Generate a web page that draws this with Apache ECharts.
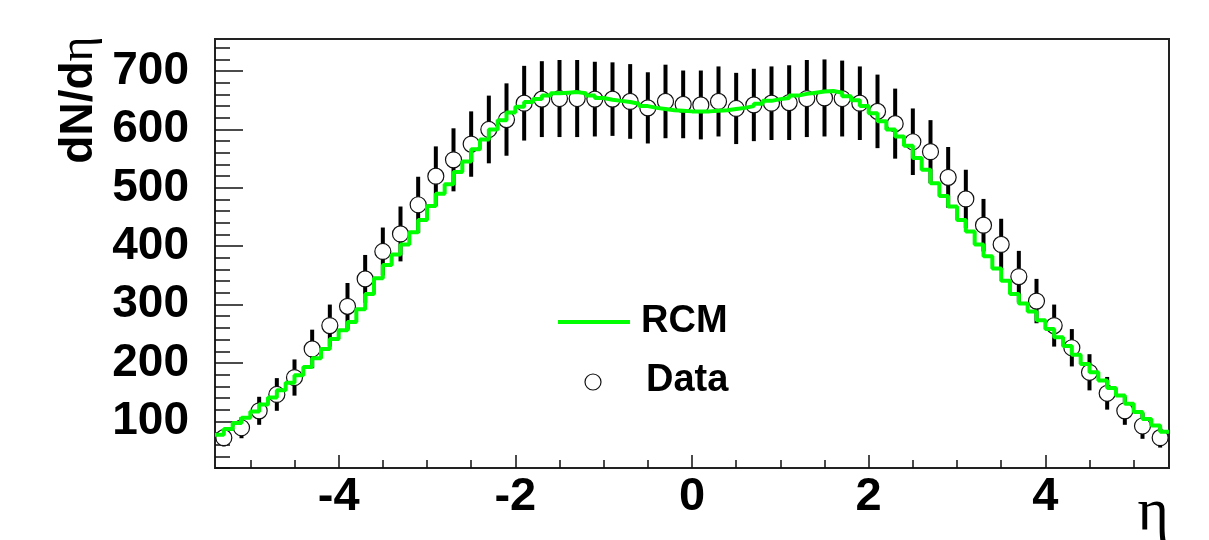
<!DOCTYPE html>
<html><head><meta charset="utf-8">
<script src="https://cdn.jsdelivr.net/npm/echarts@6/dist/echarts.min.js"></script>
<style>html,body{margin:0;padding:0;background:#fff}#c{width:1209px;height:540px}</style>
</head><body><div id="c"></div>
<script>
// Data points (eta, dN/deta, error)
const dataEta = [-5.3,-5.1,-4.9,-4.7,-4.5,-4.3,-4.1,-3.9,-3.7,-3.5,-3.3,-3.1,-2.9,-2.7,-2.5,-2.3,-2.1,-1.9,-1.7,-1.5,-1.3,-1.1,-0.9,-0.7,-0.5,-0.3,-0.1,
  0.1,0.3,0.5,0.7,0.9,1.1,1.3,1.5,1.7,1.9,2.1,2.3,2.5,2.7,2.9,3.1,3.3,3.5,3.7,3.9,4.1,4.3,4.5,4.7,4.9,5.1,5.3];
const dataVal = [72,89,118,146,175,224,264,297,344,391,421,471,520,548,575,600,617,645,652,653,653,652,652,648,637,648,643,
  642,648,636,642,645,646,653,654,653,645,631,610,579,562,518,481,436,403,348,306,264,226,184,148,118,92,72];
const dataErr = [15,18,24,28,31,33,36,40,41,41,47,48,51,54,56,58,62,64,65,66,66,64,63,64,61,63,58,
  59,60,61,62,63,64,66,66,65,63,63,60,57,54,52,50,45,44,44,38,36,32,31,28,24,22,17];
// RCM histogram, bins of width 0.1 starting at -5.4
const rcmStart = -5.4;
const rcmWidth = 0.1;
const rcmVal = [77,87,97,106,117,129,141,153,166,179,
  193,208,224,241,256,270,292,318,345,368,
  386,403,424,445,469,490,506,527,545,566,
  583,600,616,629,639,647,652,658,662,663,
  664,662,658,654,651,649,647,644,640,637,
  635,633,632,631,
  631,631,632,633,635,637,640,644,649,652,
  654,658,661,663,665,666,663,657,650,
  640,628,614,600,588,572,551,531,508,486,
  468,445,425,403,383,362,341,318,302,288,
  273,258,244,229,214,198,184,170,157,144,
  130,116,104,93,82];
const xTickLabels = [-4,-2,0,2,4];
const yTickLabels = [100,200,300,400,500,600,700];

const xMinor = [];
for (let k = -10; k <= 10; k++) { const v = k * 0.5; if (Math.abs(v) <= 5.4 && k % 4 !== 0) xMinor.push(v); }
const yMinor = [];
for (let v = 20; v <= 740; v += 20) { if (v % 100 !== 0) yMinor.push(v); }

const pts = dataEta.map((e, i) => [e, dataVal[i], dataErr[i]]);
const rcmLine = rcmVal.map((v, i) => [+(rcmStart + i * rcmWidth).toFixed(2), v]);
rcmLine.push([+(rcmStart + rcmVal.length * rcmWidth).toFixed(2), rcmVal[rcmVal.length - 1]]);

const FONT = 'Liberation Sans, Arial, sans-serif';
const tickStyle = { color: '#111', width: 1.5 };
const noLine = { show: false, onZero: false };
const chart = echarts.init(document.getElementById('c'), null, { renderer: 'canvas' });
chart.setOption({
  animation: false,
  backgroundColor: '#fff',
  grid: { left: 215, right: 40, top: 39, bottom: 72, show: true, borderColor: '#222', borderWidth: 2, backgroundColor: 'transparent' },
  xAxis: [
    { type: 'value', min: -5.4, max: 5.4, position: 'bottom',
      axisLine: noLine, splitLine: { show: false },
      axisTick: { show: true, inside: true, length: 13, lineStyle: tickStyle, customValues: xTickLabels },
      axisLabel: { show: true, customValues: xTickLabels, margin: 6, fontFamily: FONT, fontWeight: 'bold', fontSize: 47, color: '#000',
        formatter: v => String(v) } },
    { type: 'value', min: -5.4, max: 5.4, position: 'bottom', offset: 0,
      axisLine: noLine, splitLine: { show: false },
      axisTick: { show: true, inside: true, length: 8, lineStyle: tickStyle, customValues: xMinor },
      axisLabel: { show: false } }
  ],
  yAxis: [
    { type: 'value', min: 20, max: 755, position: 'left',
      axisLine: noLine, splitLine: { show: false },
      axisTick: { show: true, inside: true, length: 28, lineStyle: tickStyle, customValues: yTickLabels },
      axisLabel: { show: true, customValues: yTickLabels, margin: 26, fontFamily: FONT, fontWeight: 'bold', fontSize: 46, color: '#000' } },
    { type: 'value', min: 20, max: 755, position: 'left', offset: 0,
      axisLine: noLine, splitLine: { show: false },
      axisTick: { show: true, inside: true, length: 15, lineStyle: tickStyle, customValues: yMinor },
      axisLabel: { show: false } }
  ],
  series: [
    { type: 'custom', name: 'err', xAxisIndex: 0, yAxisIndex: 0, clip: true, z: 2,
      data: pts, encode: { x: 0, y: 1 },
      renderItem: function (params, api) {
        const x = api.value(0), y = api.value(1), e = api.value(2);
        const p1 = api.coord([x, y - e]), p2 = api.coord([x, y + e]);
        return { type: 'line', shape: { x1: p1[0], y1: p1[1], x2: p2[0], y2: p2[1] },
          style: { stroke: '#000', lineWidth: 4 } };
      } },
    { type: 'scatter', name: 'Data', xAxisIndex: 0, yAxisIndex: 0, z: 3,
      data: pts.map(p => [p[0], p[1]]), symbol: 'circle', symbolSize: 16,
      itemStyle: { color: '#fff', borderColor: '#111', borderWidth: 1.2, opacity: 1 } },
    { type: 'line', name: 'RCM', xAxisIndex: 0, yAxisIndex: 0, z: 4, step: 'end',
      data: rcmLine, showSymbol: false, symbol: 'none', clip: true,
      lineStyle: { color: '#00ff00', width: 4 } }
  ],
  graphic: [
    { type: 'text', x: 79, y: 100, rotation: Math.PI / 2, z: 10,
      style: { text: '{a|dN/d}{b|η}', align: 'center', verticalAlign: 'middle',
        rich: { a: { fontFamily: FONT, fontWeight: 'bold', fontSize: 46, fill: '#000' },
                b: { fontFamily: 'Liberation Serif, serif', fontSize: 48, fill: '#000' } } } },
    { type: 'text', x: 1169, y: 513, z: 10,
      style: { text: 'η', align: 'right', verticalAlign: 'middle', fontFamily: 'Liberation Serif, serif', fontSize: 60, fill: '#000' } },
    { type: 'line', z: 10, shape: { x1: 558, y1: 322, x2: 630, y2: 322 }, style: { stroke: '#00ff00', lineWidth: 4 } },
    { type: 'text', x: 641, y: 322, z: 10,
      style: { text: 'RCM', align: 'left', verticalAlign: 'middle', fontFamily: FONT, fontWeight: 'bold', fontSize: 38, fill: '#000' } },
    { type: 'circle', z: 10, shape: { cx: 593, cy: 382, r: 8 }, style: { fill: '#fff', stroke: '#111', lineWidth: 1.2 } },
    { type: 'text', x: 646, y: 381, z: 10,
      style: { text: 'Data', align: 'left', verticalAlign: 'middle', fontFamily: FONT, fontWeight: 'bold', fontSize: 38, fill: '#000' } }
  ]
});
</script></body></html>
